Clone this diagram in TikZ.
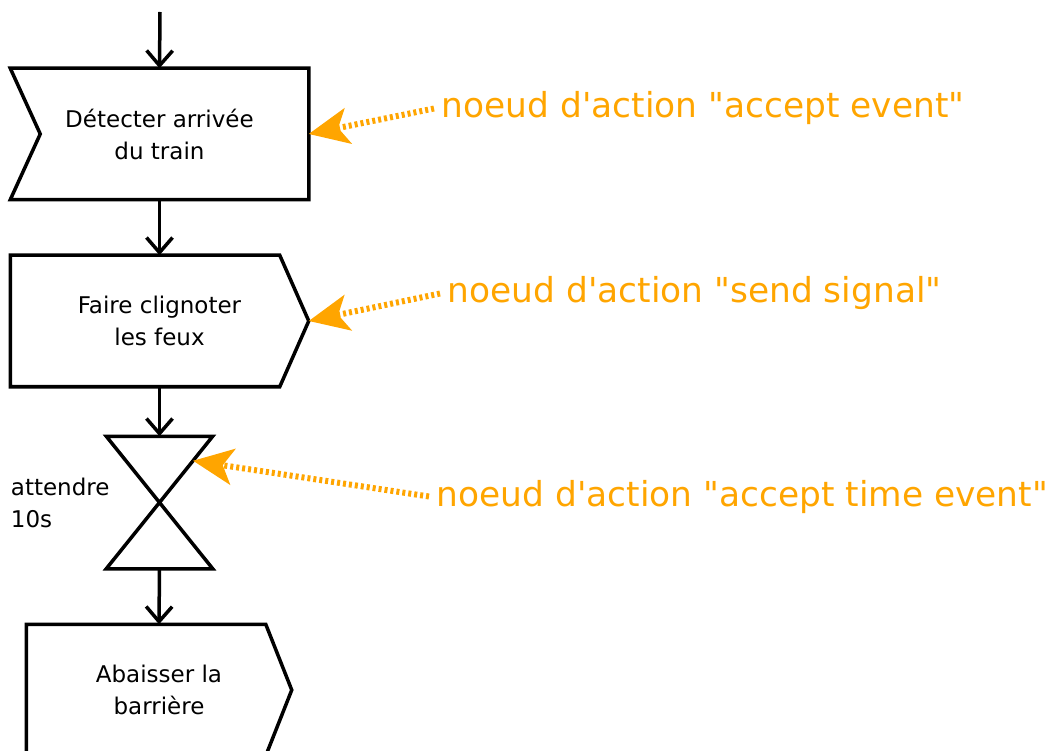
\documentclass[tikz,border=0pt]{standalone}
\usepackage{fontspec}
\newfontfamily\dejavu{DejaVu Sans}
\usetikzlibrary{arrows.meta,positioning,calc}
\definecolor{notecol}{RGB}{255,165,0}

\begin{document}
\begin{tikzpicture}[x=1pt,y=-1pt,>={Straight Barb[length=15pt,width=26pt]},line width=3.5pt,
  act/.style={minimum width=#1,minimum height=128pt,inner sep=0pt,align=center,font=\dejavu\fontsize{23}{32}\selectfont},
  note/.style={anchor=base west,inner xsep=6pt,inner ysep=0pt,text=notecol,font=\dejavu\fontsize{34.4}{40}\selectfont},
  hint/.style={notecol,line width=6pt,dash pattern=on 3pt off 3pt,-{Stealth[length=40pt,width=36pt,inset=10pt]}}]
\useasboundingbox (0,0) rectangle (1058,751);
\coordinate (start) at (160,12);
\node[act=295pt] (detect) at (159.5,134) {Détecter arrivée\\du train};
\node[act=295pt] (flash) at (159.5,321) {Faire clignoter\\les feux};
\node[minimum width=103pt,minimum height=129pt,inner sep=0pt] (wait) at (159.5,502.5) {};
\node[act=262pt] (lower) at (159,690) {Abaisser la\\barrière};
\node[left=-5pt of wait,inner sep=0pt,align=left,font=\dejavu\fontsize{23}{32}\selectfont] (waitlabel) {attendre\\10s};
\draw (detect.north west) -- (detect.north east) -- (detect.south east) -- (detect.south west) -- ($(detect.west)+(30,0)$) -- cycle;
\draw (flash.north west) -- ($(flash.north east)+(-29,0)$) -- (flash.east) -- ($(flash.south east)+(-29,0)$) -- (flash.south west) -- cycle;
\draw (wait.north west) -- (wait.north east) -- (wait.south west) -- (wait.south east) -- cycle;
\draw (lower.north west) -- ($(lower.north east)+(-26,0)$) -- (lower.east) -- ($(lower.south east)+(-26,0)$) -- (lower.south west) -- cycle;
\draw[->] (start) -- (detect.north);
\draw[->] (detect.south) -- (flash.north);
\draw[->] (flash.south) -- (wait.north);
\draw[->] (wait.south) -- (lower.north);
\node[note] (noteaccept) at (434,118) {noeud d'action "accept event"};
\node[note] (notesend) at (440,303) {noeud d'action "send signal"};
\node[note] (notetime) at (429,506) {noeud d'action "accept time event"};
\draw[hint] (noteaccept.west) -- (detect.east);
\draw[hint] (notesend.west) -- (flash.east);
\draw[hint] (notetime.west) -- ($(wait.north east)!0.37!(wait.center)$);
\end{tikzpicture}
\end{document}
